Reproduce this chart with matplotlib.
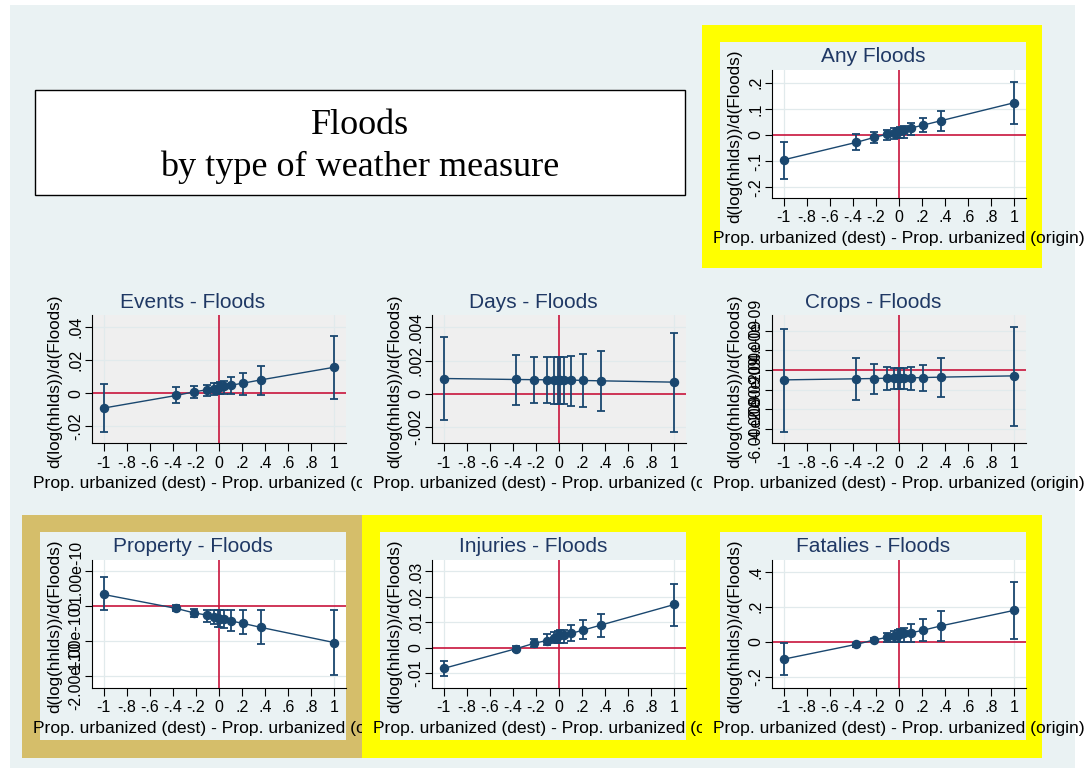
import numpy as np
import matplotlib.pyplot as plt
from matplotlib.patches import Rectangle

plt.rcParams['font.family'] = ['Liberation Sans', 'DejaVu Sans']

W, H = 1087, 770
BG = '#EAF2F3'
NAVY = '#1A476F'
RED = '#C8143C'
GRID = '#E1EAEC'
TITLE_C = '#1F3864'
YELLOW = '#FFFF00'
KHAKI = '#D5BE6A'

# x positions of the estimates (difference in urbanization)
xvals = [-1, -0.37, -0.215, -0.105, -0.045, -0.012, 0.012, 0.04, 0.105, 0.21, 0.365, 1]
xticks = [-1, -0.8, -0.6, -0.4, -0.2, 0, 0.2, 0.4, 0.6, 0.8, 1]
xlabels = ['-1', '-.8', '-.6', '-.4', '-.2', '0', '.2', '.4', '.6', '.8', '1']

any_est = [-0.095, -0.028, -0.009, 0.003, 0.009, 0.014, 0.017, 0.020, 0.027, 0.038, 0.055, 0.124]
any_lo = [-0.168, -0.057, -0.030, -0.018, -0.014, -0.013, -0.012, -0.010, 0.002, 0.010, 0.017, 0.042]
any_hi = [-0.025, 0.004, 0.013, 0.021, 0.026, 0.028, 0.030, 0.034, 0.047, 0.065, 0.093, 0.204]

events_est = [-0.009, -0.0014, 0.0008, 0.002, 0.0027, 0.003, 0.0034, 0.004, 0.0048, 0.006, 0.008, 0.0156]
events_lo = [-0.0234, -0.006, -0.003, -0.0016, -0.001, -0.0008, -0.0005, -0.0005, -0.0004, -0.001, -0.0014, -0.0034]
events_hi = [0.0054, 0.0034, 0.004, 0.005, 0.0058, 0.0062, 0.0066, 0.0075, 0.0096, 0.0124, 0.0166, 0.0346]

days_est = [0.00092, 0.00086, 0.00085, 0.00084, 0.00084, 0.00084, 0.00083, 0.00083, 0.00083, 0.0008, 0.00078, 0.0007]
days_lo = [-0.0016, -0.0007, -0.00056, -0.00056, -0.0006, -0.0006, -0.0006, -0.0006, -0.00072, -0.00082, -0.00106, -0.00228]
days_hi = [0.00344, 0.00234, 0.00224, 0.0022, 0.0022, 0.0022, 0.0022, 0.0022, 0.00228, 0.0024, 0.00258, 0.00368]

# crops in units of 1e-9
crops_est = [-1.02, -0.91, -0.88, -0.85, -0.84, -0.83, -0.82, -0.82, -0.81, -0.78, -0.74, -0.61]
crops_lo = [-6.33, -3.11, -2.44, -2.06, -1.95, -1.9, -1.9, -1.95, -2.0, -2.2, -2.77, -5.68]
crops_hi = [4.19, 1.25, 0.61, 0.27, 0.22, 0.2, 0.2, 0.22, 0.3, 0.54, 1.25, 4.4]

# property in units of 1e-10
prop_est = [0.34, -0.06, -0.19, -0.25, -0.30, -0.33, -0.35, -0.36, -0.42, -0.49, -0.605, -1.04]
prop_lo = [-0.114, -0.142, -0.32, -0.46, -0.52, -0.58, -0.60, -0.61, -0.70, -0.80, -1.08, -1.98]
prop_hi = [0.852, 0.04, -0.085, -0.11, -0.11, -0.11, -0.11, -0.11, -0.114, -0.10, -0.10, -0.114]

inj_est = [-0.0082, -0.0004, 0.0017, 0.0028, 0.0039, 0.0045, 0.0048, 0.0051, 0.0056, 0.0069, 0.0089, 0.0170]
inj_lo = [-0.0113, -0.0012, 0.0004, 0.0011, 0.0018, 0.0018, 0.0018, 0.0019, 0.0027, 0.0034, 0.0043, 0.0086]
inj_hi = [-0.0051, 0.0006, 0.0033, 0.0052, 0.006, 0.0066, 0.0068, 0.007, 0.0089, 0.0108, 0.0134, 0.0249]

fat_est = [-0.100, -0.015, 0.01, 0.025, 0.032, 0.038, 0.042, 0.048, 0.051, 0.066, 0.091, 0.18]
fat_lo = [-0.193, -0.03, -0.004, 0.0, 0.0, 0.0, 0.0, 0.0, 0.0, 0.004, 0.006, 0.014]
fat_hi = [-0.009, -0.005, 0.02, 0.05, 0.06, 0.068, 0.075, 0.08, 0.104, 0.131, 0.174, 0.341]


def fig_rect(x, y, w, h):
    return [x / W, 1 - (y + h) / H, w / W, h / H]


def add_rect(x, y, w, h, z, fc, ec='none', lw=0):
    r = Rectangle((x / W, 1 - (y + h) / H), w / W, h / H, transform=fig.transFigure,
                  fc=fc, ec=ec, lw=lw, zorder=z)
    fig.add_artist(r)


def panel(k, row, col, title, est, lo, hi, scale, yt, ylabs, ylim, frame, plotbg):
    cx = 22 + 340 * col
    cy = [25, 270, 515][row]
    z = 10 + 10 * k
    add_rect(cx, cy, 340, 243, z, frame if frame else BG)
    add_rect(cx + 18, cy + 17, 306, 208, z + 1, BG)
    ax = fig.add_axes(fig_rect(cx + 70, cy + 45, 254, 128))
    ax.set_zorder(z + 2)
    ax.set_facecolor(plotbg)

    est = np.asarray(est) * scale
    lo = np.asarray(lo) * scale
    hi = np.asarray(hi) * scale
    yt = np.asarray(yt) * scale

    for t in yt:
        if t != 0:
            ax.axhline(t, color=GRID, lw=0.9, zorder=0)
    for t in (-1, 1):
        ax.axvline(t, color=GRID, lw=0.9, zorder=0)
    ax.axhline(0, color=RED, lw=1.2, zorder=1)
    ax.axvline(0, color=RED, lw=1.2, zorder=1)

    ax.plot(xvals, est, '-', color=NAVY, lw=1.0, zorder=3)
    ax.errorbar(xvals, est, yerr=[est - lo, hi - est], fmt='none', ecolor=NAVY,
                elinewidth=1.3, capsize=3.2, capthick=1.3, zorder=3)
    ax.plot(xvals, est, 'o', color=NAVY, ms=5.8, zorder=4)

    ax.set_xlim(-1.1, 1.1)
    ax.set_ylim(ylim[0] * scale, ylim[1] * scale)
    ax.set_xticks(xticks, xlabels, fontsize=11.5)
    ax.set_yticks(yt, ylabs, fontsize=11.5, rotation=90, va='center')
    ax.tick_params(axis='x', length=6, width=0.8, pad=3)
    ax.tick_params(axis='y', length=5, width=0.8, pad=1)
    for s in ('top', 'right'):
        ax.spines[s].set_visible(False)
    for s in ('left', 'bottom'):
        ax.spines[s].set_linewidth(0.8)

    ax.set_xlabel('Prop. urbanized (dest) - Prop. urbanized (origin)', fontsize=12.6)
    ax.xaxis.set_label_coords(0.5, -0.32)
    ax.xaxis.label.set_va('center')
    ax.set_ylabel('d(log(hhlds))/d(Floods)', fontsize=12.3)
    ax.yaxis.set_label_coords(-0.1457, 0.48)
    ax.yaxis.label.set_va('center')
    ax.text((171 - 70) / 254, 1 + 13 / 128, title, transform=ax.transAxes,
            ha='center', va='center', fontsize=15, color=TITLE_C)
    return ax


fig = plt.figure(figsize=(W / 100, H / 100), dpi=100)
add_rect(10, 5, 1065, 763, -10, BG)

# title box
add_rect(35, 90, 650, 105, 1, 'white', ec='black', lw=1.0)
fig.text(360 / W, 1 - 125 / H, 'Floods', ha='center', va='center', fontsize=26,
         family='Liberation Serif', zorder=2)
fig.text(360 / W, 1 - 167 / H, 'by type of weather measure', ha='center', va='center',
         fontsize=26, family='Liberation Serif', zorder=2)

LIGHT = '#EFEFEF'
panel(0, 0, 2, 'Any Floods', any_est, any_lo, any_hi, 1,
      [-0.2, -0.1, 0, 0.1, 0.2], ['-.2', '-.1', '0', '.1', '.2'], (-0.241, 0.249), YELLOW, 'white')
panel(1, 1, 0, 'Events - Floods', events_est, events_lo, events_hi, 1,
      [-0.02, 0, 0.02, 0.04], ['-.02', '0', '.02', '.04'], (-0.030, 0.047), None, LIGHT)
panel(2, 1, 1, 'Days - Floods', days_est, days_lo, days_hi, 1,
      [-0.002, 0, 0.002, 0.004], ['-.002', '0', '.002', '.004'], (-0.00296, 0.00474), None, LIGHT)
panel(3, 1, 2, 'Crops - Floods', crops_est, crops_lo, crops_hi, 1e-9,
      [-6, -4, -2, 0, 2, 4], ['-6.00e-09', '-4.00e-09', '-2.00e-09', '0', '2.00e-09', '4.00e-09'],
      (-7.44, 5.58), None, LIGHT)
panel(4, 2, 0, 'Property - Floods', prop_est, prop_lo, prop_hi, 1e-10,
      [-2, -1, 0, 1], ['-2.00e-10', '-1.00e-10', '0', '1.00e-10'], (-2.34, 1.327), KHAKI, 'white')
panel(5, 2, 1, 'Injuries - Floods', inj_est, inj_lo, inj_hi, 1,
      [-0.01, 0, 0.01, 0.02, 0.03], ['-.01', '0', '.01', '.02', '.03'], (-0.0159, 0.0345), YELLOW, 'white')
panel(6, 2, 2, 'Fatalies - Floods', fat_est, fat_lo, fat_hi, 1,
      [-0.2, 0, 0.2, 0.4], ['-.2', '0', '.2', '.4'], (-0.265, 0.468), YELLOW, 'white')

fig.savefig('out.png', dpi=100)
